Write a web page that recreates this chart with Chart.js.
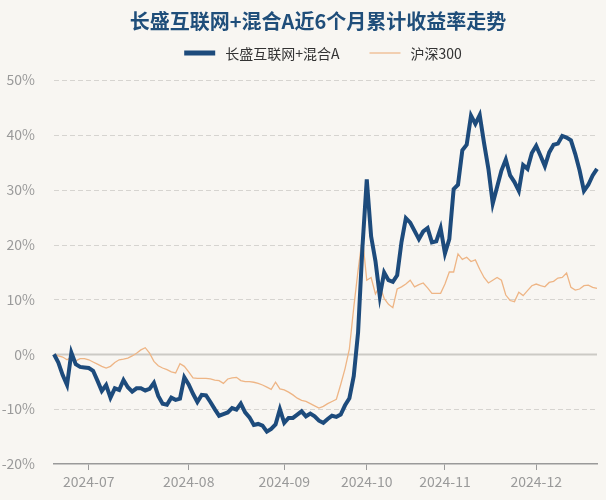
<!DOCTYPE html>
<html>
<head>
<meta charset="utf-8">
<script src="https://cdn.jsdelivr.net/npm/chart.js@4.4.1/dist/chart.umd.min.js"></script>
<style>
  html, body { margin: 0; padding: 0; background: #f8f6f2; }
  #wrap { width: 606px; height: 500px; }
</style>
</head>
<body>
<div id="wrap"><canvas id="c" width="606" height="500"></canvas></div>
<script>
const dates = [
  '2024-06-19','2024-06-20','2024-06-21','2024-06-24','2024-06-25','2024-06-26','2024-06-27','2024-06-28',
  '2024-07-01','2024-07-02','2024-07-03','2024-07-04','2024-07-05','2024-07-08','2024-07-09','2024-07-10',
  '2024-07-11','2024-07-12','2024-07-15','2024-07-16','2024-07-17','2024-07-18','2024-07-19','2024-07-22',
  '2024-07-23','2024-07-24','2024-07-25','2024-07-26','2024-07-29','2024-07-30','2024-07-31',
  '2024-08-01','2024-08-02','2024-08-05','2024-08-06','2024-08-07','2024-08-08','2024-08-09','2024-08-12',
  '2024-08-13','2024-08-14','2024-08-15','2024-08-16','2024-08-19','2024-08-20','2024-08-21','2024-08-22',
  '2024-08-23','2024-08-26','2024-08-27','2024-08-28','2024-08-29','2024-08-30',
  '2024-09-02','2024-09-03','2024-09-04','2024-09-05','2024-09-06','2024-09-09','2024-09-10','2024-09-11',
  '2024-09-12','2024-09-13','2024-09-18','2024-09-19','2024-09-20','2024-09-23','2024-09-24','2024-09-25',
  '2024-09-26','2024-09-27','2024-09-30',
  '2024-10-08','2024-10-09','2024-10-10','2024-10-11','2024-10-14','2024-10-15','2024-10-16','2024-10-17',
  '2024-10-18','2024-10-21','2024-10-22','2024-10-23','2024-10-24','2024-10-25','2024-10-28','2024-10-29',
  '2024-10-30','2024-10-31',
  '2024-11-01','2024-11-04','2024-11-05','2024-11-06','2024-11-07','2024-11-08','2024-11-11','2024-11-12',
  '2024-11-13','2024-11-14','2024-11-15','2024-11-18','2024-11-19','2024-11-20','2024-11-21','2024-11-22',
  '2024-11-25','2024-11-26','2024-11-27','2024-11-28','2024-11-29',
  '2024-12-02','2024-12-03','2024-12-04','2024-12-05','2024-12-06','2024-12-09','2024-12-10','2024-12-11',
  '2024-12-12','2024-12-13','2024-12-16','2024-12-17','2024-12-18','2024-12-19','2024-12-20'
];

// 长盛互联网+混合A, cumulative return %
const fundReturn = [
  0, -1.5, -3.8, -5.6, 0.3, -1.8, -2.3, -2.4, -2.5, -3.0,
  -4.8, -6.7, -5.6, -7.9, -6.2, -6.5, -4.7, -6.0, -6.8, -6.2,
  -6.2, -6.6, -6.3, -5.2, -7.6, -9.0, -9.2, -7.9, -8.3, -8.1,
  -4.2, -5.5, -7.2, -8.7, -7.4, -7.5, -8.7, -10.0, -11.2, -10.9,
  -10.6, -9.8, -10.1, -9.0, -10.6, -11.5, -12.9, -12.7, -13.0, -14.1,
  -13.6, -12.8, -10.0, -12.5, -11.6, -11.6, -11.0, -10.4, -11.3, -10.8,
  -11.3, -12.1, -12.5, -11.8, -11.2, -11.4, -11.0, -9.3, -8.0, -4.0,
  4.0, 19.5, 31.9, 21.5, 17.0, 10.6, 14.9, 13.5, 13.2, 14.4,
  20.5, 24.8, 24.0, 22.5, 21.0, 22.4, 23.0, 20.4, 20.6, 23.0,
  18.4, 21.0, 30.1, 30.9, 37.2, 38.2, 43.5, 42.0, 43.6, 38.5,
  33.8, 27.5, 30.5, 33.5, 35.5, 32.6, 31.4, 29.8, 34.5, 33.8,
  36.7, 38.0, 36.2, 34.3, 36.8, 38.2, 38.4, 39.8, 39.5, 39.0,
  36.5, 33.5, 29.8, 30.9, 32.6, 33.8
];

// 沪深300, cumulative return %
const hs300Return = [
  0, -0.3, -0.5, -1.0, -0.5, -1.2, -0.8, -0.8, -1.0, -1.4,
  -1.8, -2.2, -2.5, -2.2, -1.5, -1.0, -0.9, -0.7, -0.3, 0.2,
  0.8, 1.2, 0.2, -1.3, -2.1, -2.5, -2.8, -3.2, -3.4, -1.7,
  -2.2, -3.2, -4.3, -4.4, -4.4, -4.4, -4.5, -4.7, -4.8, -5.3,
  -4.5, -4.3, -4.2, -4.8, -5.0, -5.0, -5.1, -5.3, -5.6, -6.0,
  -6.4, -5.1, -6.3, -6.5, -6.9, -7.4, -8.0, -8.4, -8.6, -9.0,
  -9.4, -9.8, -9.5, -9.0, -8.6, -8.2, -5.5, -2.6, 1.0, 8.5,
  15.3, 21.3, 13.5, 14.0, 11.0, 12.5, 10.2, 9.1, 8.5, 11.9,
  12.3, 12.8, 13.5, 12.3, 12.7, 13.0, 12.1, 11.1, 11.1, 11.1,
  12.8, 15.0, 15.0, 18.3, 17.3, 17.7, 16.9, 17.2, 15.5, 14.0,
  13.0, 13.5, 14.0, 13.5, 10.8, 9.8, 9.6, 11.3, 10.7, 11.6,
  12.5, 12.8, 12.5, 12.3, 13.1, 13.3, 13.9, 14.0, 14.8, 12.2,
  11.7, 11.9, 12.5, 12.6, 12.2, 12.0
];

const monthTicks = ['2024-07', '2024-08', '2024-09', '2024-10', '2024-11', '2024-12'];
const yMin = -20;
const yMax = 50;
const yStep = 10;

const titleText = '长盛互联网+混合A近6个月累计收益率走势';
const FONT = '"Noto Sans CJK SC", "Noto Sans", sans-serif';
const tickColor = '#9a9a9a';

// dashed horizontal grid + solid zero line, under the lines
const gridLines = {
  id: 'gridLines',
  beforeDatasetsDraw(chart) {
    const { ctx, chartArea, scales } = chart;
    ctx.save();
    scales.y.ticks.forEach((t) => {
      if (t.value === yMin) return;
      const y = Math.round(scales.y.getPixelForValue(t.value)) + 0.5;
      ctx.beginPath();
      if (t.value === 0) {
        ctx.setLineDash([]);
        ctx.strokeStyle = '#cccac5';
        ctx.lineWidth = 2;
      } else {
        ctx.setLineDash([5, 3]);
        ctx.strokeStyle = '#d6d4d0';
        ctx.lineWidth = 1;
      }
      ctx.moveTo(chartArea.left, y);
      ctx.lineTo(chartArea.right, y);
      ctx.stroke();
    });
    ctx.restore();
  },
};

// title and legend drawn at the top
const header = {
  id: 'header',
  afterDraw(chart) {
    const { ctx } = chart;
    ctx.save();
    ctx.textBaseline = 'middle';
    ctx.textAlign = 'center';
    ctx.fillStyle = '#1f4e7a';
    ctx.font = `bold 20px ${FONT}`;
    ctx.fillText(titleText, 318, 21);

    ctx.font = `14px ${FONT}`;
    ctx.textAlign = 'left';
    const lineW = 31, textGap = 10, itemGap = 30;
    const items = chart.data.datasets.map((d) => ({
      label: d.label, color: d.borderColor, width: d.borderWidth,
      w: lineW + textGap + ctx.measureText(d.label).width,
    }));
    const total = items.reduce((s, it) => s + it.w, 0) + itemGap * (items.length - 1);
    let x = 323 - total / 2;
    const y = 53;
    items.forEach((it) => {
      ctx.strokeStyle = it.color;
      ctx.lineWidth = it.width === 4 ? 5 : 1.2;
      ctx.beginPath();
      ctx.moveTo(x, y);
      ctx.lineTo(x + lineW, y);
      ctx.stroke();
      ctx.fillStyle = '#333';
      ctx.fillText(it.label, x + lineW + textGap, y + 1);
      x += it.w + itemGap;
    });
    ctx.restore();
  },
};

function monthLabel(i) {
  const m = dates[i].slice(0, 7);
  if (!monthTicks.includes(m)) return null;
  if (i > 0 && dates[i - 1].slice(0, 7) === m) return null;
  return m;
}

new Chart(document.getElementById('c'), {
  type: 'line',
  data: {
    labels: dates,
    datasets: [
      {
        label: '长盛互联网+混合A',
        data: fundReturn,
        borderColor: '#1d4b7c',
        borderWidth: 4,
        pointRadius: 0,
        tension: 0,
      },
      {
        label: '沪深300',
        data: hs300Return,
        borderColor: '#eeb585',
        borderWidth: 1.3,
        pointRadius: 0,
        tension: 0,
      },
    ],
  },
  options: {
    responsive: false,
    animation: false,
    layout: { padding: { left: 0, right: 9, top: 80, bottom: 0 } },
    plugins: {
      title: { display: false },
      legend: { display: false },
      tooltip: { enabled: false },
    },
    scales: {
      x: {
        type: 'category',
        offset: false,
        grid: { drawOnChartArea: false, drawTicks: true, tickLength: 6, color: '#9a9a9a' },
        border: { display: true, color: '#9a9a9a', width: 1.5 },
        ticks: {
          autoSkip: false,
          maxRotation: 0,
          padding: 3,
          color: tickColor,
          font: { family: FONT, size: 14 },
          callback: (v, i) => monthLabel(i),
        },
        afterFit: (s) => { s.height = 36; },
      },
      y: {
        min: yMin,
        max: yMax,
        grid: { display: false },
        border: { display: false },
        ticks: {
          stepSize: yStep,
          padding: 11,
          color: tickColor,
          font: { family: FONT, size: 14 },
          callback: (v) => v + '%',
        },
        afterFit: (s) => { s.width = 54; },
      },
    },
  },
  plugins: [gridLines, header],
});
</script>
</body>
</html>
